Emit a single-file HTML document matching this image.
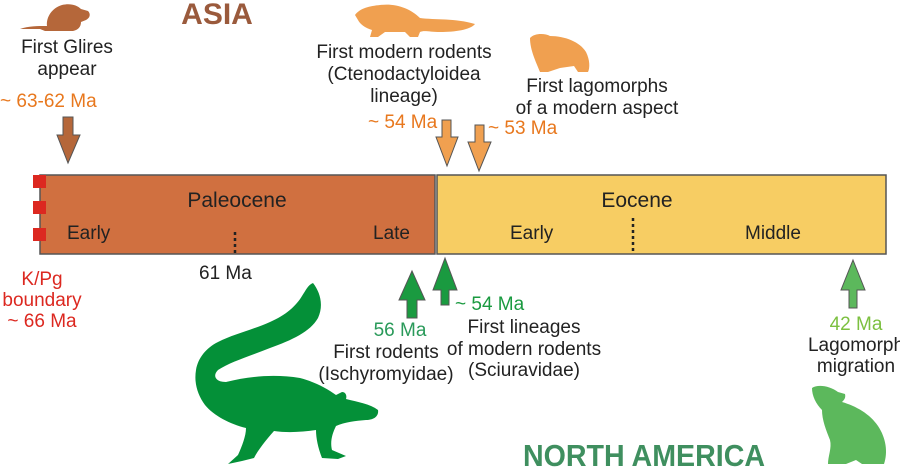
<!DOCTYPE html>
<html><head><meta charset="utf-8"><style>
html,body{margin:0;padding:0;background:#fff;}
svg{display:block;}
text{font-family:"Liberation Sans",sans-serif;}
</style></head><body>
<svg width="900" height="469" viewBox="0 0 900 469" xmlns="http://www.w3.org/2000/svg">
<text x="217" y="24" font-size="30" font-weight="bold" fill="#9a5a3c" text-anchor="middle">ASIA</text>
<!-- glires mouse -->
<path d="M20,29 C28,26 38,26 47,26 C46,17 52,8 62,5 C70,3 77,5 81,9 L88,11 C91,14 90,18 86,20 L81,22 C81,27 78,30 73,31 L45,31 L40,29 Z" fill="#b5673a"/>
<text font-size="19" fill="#222" text-anchor="middle"><tspan x="67" y="53">First Glires</tspan><tspan x="67" y="75">appear</tspan></text>
<text x="0" y="107" font-size="19" fill="#e8781e">~ 63-62 Ma</text>
<path d="M63,117 L73,117 L73,135 L80,135 L68,163 L57,135 L63,135 Z" fill="#b5673a" stroke="#555" stroke-width="1"/>
<!-- bar -->
<rect x="40" y="175" width="395" height="79" fill="#d07040" stroke="#555" stroke-width="1.5"/>
<rect x="437" y="175" width="449" height="79" fill="#f7cd63" stroke="#555" stroke-width="1.5"/>
<rect x="33" y="175" width="13" height="13" fill="#dc2820"/>
<rect x="33" y="201" width="13" height="13" fill="#dc2820"/>
<rect x="33" y="228" width="13" height="13" fill="#dc2820"/>
<text x="237" y="207" font-size="21" fill="#222" text-anchor="middle">Paleocene</text>
<text x="67" y="239" font-size="19" fill="#222">Early</text>
<text x="373" y="239" font-size="19" fill="#222">Late</text>
<line x1="235" y1="232" x2="235" y2="254" stroke="#222" stroke-width="2.5" stroke-dasharray="3,3"/>
<text x="637" y="207" font-size="21" fill="#222" text-anchor="middle">Eocene</text>
<text x="510" y="239" font-size="19" fill="#222">Early</text>
<text x="745" y="239" font-size="19" fill="#222">Middle</text>
<line x1="633" y1="218" x2="633" y2="254" stroke="#222" stroke-width="2.5" stroke-dasharray="3,3"/>
<text x="199" y="279" font-size="19" fill="#222">61 Ma</text>
<text font-size="19" fill="#dc2820" text-anchor="middle"><tspan x="42" y="285">K/Pg</tspan><tspan x="42" y="306">boundary</tspan><tspan x="42" y="327">~ 66 Ma</tspan></text>
<!-- orange squirrel -->
<path d="M355,15 C360,8 370,6 380,5 C395,3 410,8 420,18 C435,20 455,18 475,24 C470,30 455,32 440,32 C430,32 424,30 420,32 L418,37 L410,37 L405,32 L385,32 L378,37 L370,37 L372,30 C365,28 360,24 358,20 Z" fill="#f0a050"/>
<text font-size="19" fill="#222" text-anchor="middle"><tspan x="404" y="58">First modern rodents</tspan><tspan x="404" y="80">(Ctenodactyloidea</tspan><tspan x="404" y="102">lineage)</tspan></text>
<text x="368" y="128" font-size="19" fill="#e8781e">~ 54 Ma</text>
<!-- lagomorph orange -->
<path d="M530,38 C534,33 545,33 550,36 C565,36 580,42 586,52 C590,60 590,68 588,72 L578,72 L574,66 L560,68 L548,72 L540,72 C536,62 530,50 530,38 Z" fill="#f0a050"/>
<text font-size="19" fill="#222" text-anchor="middle"><tspan x="597" y="92">First lagomorphs</tspan><tspan x="597" y="114">of a modern aspect</tspan></text>
<text x="488" y="134" font-size="19" fill="#e8781e">~ 53 Ma</text>
<path d="M442,120 L451,120 L451,137 L458,137 L447,166 L436,137 L442,137 Z" fill="#f0a050" stroke="#555" stroke-width="1"/>
<path d="M475,125 L484,125 L484,142 L491,142 L479,171 L468,142 L475,142 Z" fill="#f0a050" stroke="#555" stroke-width="1"/>
<!-- green arrows -->
<path d="M412,271 L425,300 L417,300 L417,318 L407,318 L407,300 L399,300 Z" fill="#1a9a40" stroke="#555" stroke-width="1"/>
<path d="M445,258 L457,290 L449,290 L449,305 L441,305 L441,290 L433,290 Z" fill="#1a9a40" stroke="#555" stroke-width="1"/>
<path d="M853,260 L865,290 L857,290 L857,308 L849,308 L849,290 L841,290 Z" fill="#5cb85c" stroke="#555" stroke-width="1"/>
<text x="455" y="310" font-size="19" fill="#1a9a40">~ 54 Ma</text>
<text x="400" y="336" font-size="19" fill="#2a9a5a" text-anchor="middle">56 Ma</text>
<text font-size="19" fill="#222" text-anchor="middle"><tspan x="386" y="358">First rodents</tspan><tspan x="386" y="380">(Ischyromyidae)</tspan></text>
<text font-size="19" fill="#222" text-anchor="middle"><tspan x="524" y="333">First lineages</tspan><tspan x="524" y="355">of modern rodents</tspan><tspan x="524" y="376">(Sciuravidae)</tspan></text>
<text x="856" y="330" font-size="19" fill="#7cc040" text-anchor="middle">42 Ma</text>
<text font-size="19" fill="#222" text-anchor="middle"><tspan x="856" y="351">Lagomorph</tspan><tspan x="856" y="372">migration</tspan></text>
<!-- big squirrel -->
<path d="M313,283 C320,292 324,305 318,318 C310,332 292,340 270,348 C250,356 230,362 218,370 C212,376 216,382 226,382 C250,376 275,374 300,378 C315,382 326,388 336,395 L342,392 C346,392 347,396 346,399 C358,402 370,404 378,410 C379,416 374,420 366,420 C355,421 345,422 336,426 C332,434 330,442 332,450 L346,456 L338,459 L322,458 C318,448 316,438 316,430 C302,432 288,433 274,431 C266,440 258,450 254,458 L242,461 L228,464 L238,455 C242,446 246,436 246,428 C230,424 214,416 205,405 C197,394 194,382 196,370 C198,358 206,348 218,342 C234,334 252,330 270,322 C286,315 296,306 302,296 C306,290 308,285 313,283 Z" fill="#049038"/>
<!-- rabbit -->
<path d="M812,388 C818,384 830,386 838,392 L845,394 C846,398 844,400 842,402 C856,406 870,414 878,426 C886,438 888,452 884,464 L862,464 L856,460 L846,464 L828,464 C828,456 832,448 830,440 C826,430 822,420 822,410 C816,404 812,396 812,388 Z" fill="#5cb85c"/>
<text x="523" y="466" font-size="31" font-weight="bold" fill="#3f8f5f" textLength="242" lengthAdjust="spacingAndGlyphs">NORTH AMERICA</text>
</svg>
</body></html>
